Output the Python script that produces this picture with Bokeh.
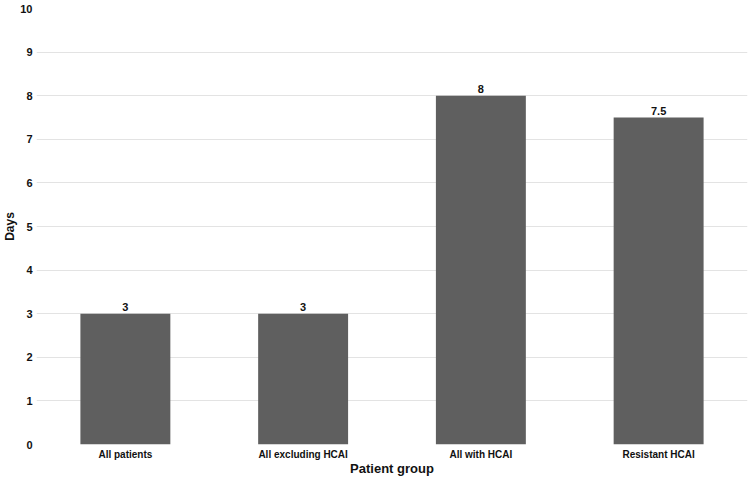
from bokeh.plotting import figure
from bokeh.models import ColumnDataSource, LabelSet
from bokeh.core.properties import value
from bokeh.embed import file_html
from bokeh.resources import INLINE

categories = ["All patients", "All excluding HCAI", "All with HCAI", "Resistant HCAI"]
days = [3, 3, 8, 7.5]
day_labels = ["3", "3", "8", "7.5"]

src = ColumnDataSource(dict(cat=categories, days=days, lab=day_labels))

FONT = "Liberation Sans"

p = figure(x_range=categories, y_range=(0, 10), width=750, height=478,
           output_backend="svg", toolbar_location=None,
           min_border_left=36, min_border_right=3, min_border_top=8, min_border_bottom=0)

p.vbar(x="cat", top="days", width=0.506, source=src, color="#5f5f5f", line_color=None)
p.add_layout(LabelSet(x="cat", y="days", text="lab", source=src, text_align="center",
                      text_baseline="bottom", y_offset=3, text_font=value(FONT),
                      text_font_style="bold", text_font_size="11px", text_color="#111111"))

p.outline_line_color = None
p.xgrid.grid_line_color = None
p.ygrid.grid_line_color = "#e3e3e3"
p.ygrid.grid_line_width = 1
p.yaxis.ticker = list(range(0, 11))

for ax in (p.xaxis, p.yaxis):
    ax.axis_line_color = None
    ax.major_tick_line_color = None
    ax.minor_tick_line_color = None
    ax.major_tick_in = 0
    ax.major_tick_out = 0
    ax.minor_tick_in = 0
    ax.minor_tick_out = 0
    ax.major_label_text_font = FONT
    ax.major_label_text_font_style = "bold"
    ax.major_label_text_color = "#111111"
    ax.axis_label_text_font = FONT
    ax.axis_label_text_font_style = "bold"
    ax.axis_label_text_color = "#111111"

p.yaxis.major_label_text_font_size = "11px"
p.xaxis.major_label_text_font_size = "10px"
p.yaxis.major_label_standoff = 4
p.yaxis.axis_label = "Days"
p.yaxis.axis_label_text_font_size = "12px"
p.yaxis.axis_label_standoff = 0
p.xaxis.major_label_standoff = 4
p.xaxis.axis_label = "Patient group"
p.xaxis.axis_label_text_font_size = "13px"
p.xaxis.axis_label_standoff = -2

open("out.html", "w").write(file_html(p, INLINE))
